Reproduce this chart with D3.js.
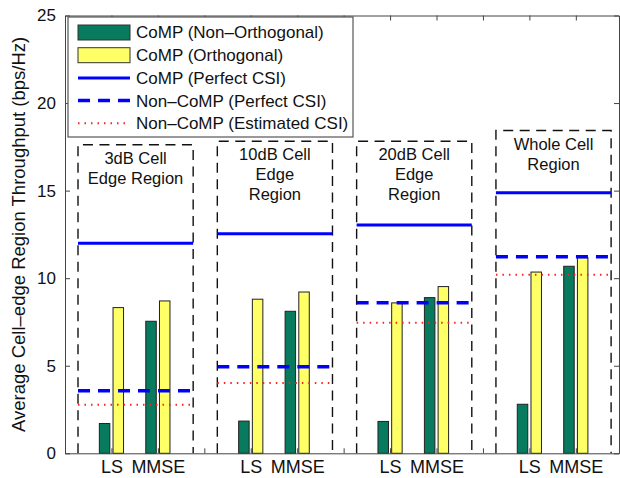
<!DOCTYPE html>
<html>
<head>
<meta charset="utf-8">
<script src="https://cdn.jsdelivr.net/npm/d3@7"></script>
<style>
    body { margin: 0; background: #fff; }
    svg text { font-family: "Liberation Sans", Arial, sans-serif; fill: #111; }
</style>
</head>
<body>
<div id="chart"></div>
<script>
// regions and estimators
var regionLabels = [
    ['3dB Cell', 'Edge Region'],
    ['10dB Cell', 'Edge', 'Region'],
    ['20dB Cell', 'Edge', 'Region'],
    ['Whole Cell', 'Region']
];
var estimators = ['LS', 'MMSE'];
var lsPos = [1, 4, 7, 10];
var xTicks = [1, 2, 3, 4, 5, 6, 7, 8, 9, 10, 11];
var xTickLabels = ['LS', 'MMSE', '', 'LS', 'MMSE', '', 'LS', 'MMSE', '', 'LS', 'MMSE'];
var yTicks = [0, 5, 10, 15, 20, 25];

// bar values (per region)
var nonOrthLS = [1.70, 1.84, 1.82, 2.80];
var nonOrthMMSE = [7.54, 8.11, 8.89, 10.68];
var orthLS = [8.32, 8.80, 8.59, 10.35];
var orthMMSE = [8.70, 9.21, 9.52, 11.17];

// reference lines (per region)
var compPerfect = [12.0, 12.54, 13.03, 14.88];
var noncompPerfect = [3.57, 4.94, 8.59, 11.23];
var noncompEstimated = [2.77, 4.01, 7.45, 10.20];

// height of dashed region boxes
var regionTop = [17.62, 17.82, 17.82, 18.43];

var legendLabels = [
    'CoMP (Non\u2013Orthogonal)',
    'CoMP (Orthogonal)',
    'CoMP (Perfect CSI)',
    'Non\u2013CoMP (Perfect CSI)',
    'Non\u2013CoMP (Estimated CSI)'
];

var width = 620;
var height = 478;
var margin = { left: 65, right: 1, top: 15.5, bottom: 24.7 };

var green = '#087a5e';
var yellow = '#ffff66';
var blue = '#0000ff';
var red = '#ff2020';

var svg = d3.select('#chart')
    .append('svg')
    .attr('width', width)
    .attr('height', height);

var x = d3.scaleLinear().domain([0, 11.93]).range([margin.left, width - margin.right]);
var y = d3.scaleLinear().domain([0, 25]).range([height - margin.bottom, margin.top]);

var barW = x(0.226) - x(0);
var off = 0.1475;

// build a flat bar table from the arrays
var bars = [];
lsPos.forEach(function(p, i) {
    bars.push({ pos: p - off, v: nonOrthLS[i], c: green });
    bars.push({ pos: p + off, v: orthLS[i], c: yellow });
    bars.push({ pos: p + 1 - off, v: nonOrthMMSE[i], c: green });
    bars.push({ pos: p + 1 + off, v: orthMMSE[i], c: yellow });
});

var lo = function(i) { return lsPos[i] - 0.72; };
var hi = function(i) { return lsPos[i] + 1.76; };

//Region boxes
var boxes = svg.append('g');
lsPos.forEach(function(p, i) {
    var pts = [[lo(i), 0], [lo(i), regionTop[i]], [hi(i), regionTop[i]], [hi(i), 0]];
    boxes.append('path')
        .attr('d', d3.line().x(function(d) { return x(d[0]); }).y(function(d) { return y(d[1]); })(pts))
        .attr('fill', 'none')
        .attr('stroke', '#111')
        .attr('stroke-width', 1.4)
        .attr('stroke-dasharray', '10,6.5');

    var t = boxes.append('text')
        .attr('text-anchor', 'middle')
        .attr('font-size', 16.5);
    regionLabels[i].forEach(function(s, k) {
        t.append('tspan')
            .attr('x', x((lo(i) + hi(i)) / 2))
            .attr('y', y(regionTop[i]) + 19 + k * 20)
            .text(s);
    });
});

//Bars
svg.append('g').selectAll('rect')
    .data(bars)
    .enter()
    .append('rect')
    .attr('x', function(d) { return x(d.pos) - barW / 2; })
    .attr('y', function(d) { return y(d.v); })
    .attr('width', barW)
    .attr('height', function(d) { return y(0) - y(d.v); })
    .attr('fill', function(d) { return d.c; })
    .attr('stroke', '#222')
    .attr('stroke-width', 1);

//Horizontal reference lines
var lineSets = [
    { vals: compPerfect, c: blue, w: 3, dash: null },
    { vals: noncompPerfect, c: blue, w: 3.5, dash: '12,8' },
    { vals: noncompEstimated, c: red, w: 2, dash: '1.5,5' }
];
lineSets.forEach(function(s) {
    svg.append('g').selectAll('line')
        .data(s.vals)
        .enter()
        .append('line')
        .attr('x1', function(d, i) { return x(lo(i)); })
        .attr('x2', function(d, i) { return x(hi(i)); })
        .attr('y1', function(d) { return y(d); })
        .attr('y2', function(d) { return y(d); })
        .attr('stroke', s.c)
        .attr('stroke-width', s.w)
        .attr('stroke-dasharray', s.dash);
});

//Axes
var axisColor = '#444';
var yLeft = svg.append('g')
    .attr('transform', 'translate(' + x(0) + ',0)')
    .call(d3.axisLeft(y).tickValues(yTicks).tickSizeInner(-5).tickSizeOuter(0).tickPadding(9));
var yRight = svg.append('g')
    .attr('transform', 'translate(' + x(11.93) + ',0)')
    .call(d3.axisRight(y).tickValues(yTicks).tickSizeInner(-5).tickSizeOuter(0).tickFormat(''));
var xBottom = svg.append('g')
    .attr('transform', 'translate(0,' + y(0) + ')')
    .call(d3.axisBottom(x).tickValues(xTicks).tickSizeInner(-5).tickSizeOuter(0).tickPadding(7)
        .tickFormat(function(d, i) { return xTickLabels[i]; }));
var xTop = svg.append('g')
    .attr('transform', 'translate(0,' + y(25) + ')')
    .call(d3.axisTop(x).tickValues(xTicks).tickSizeInner(-5).tickSizeOuter(0).tickFormat(''));

[yLeft, yRight, xBottom, xTop].forEach(function(a) {
    a.select('.domain').attr('stroke', axisColor);
    a.selectAll('.tick line').attr('stroke', axisColor);
    a.selectAll('text').attr('font-size', 17).attr('font-family', '"Liberation Sans", Arial, sans-serif').attr('fill', '#111');
});
xBottom.selectAll('text').attr('font-size', 18);

svg.append('text')
    .attr('transform', 'translate(19,' + ((y(0) + y(25)) / 2) + ') rotate(-90)')
    .attr('text-anchor', 'middle')
    .attr('dy', '0.35em')
    .attr('font-size', 18.5)
    .text('Average Cell\u2013edge Region Throughput (bps/Hz)');

//Legend
var leg = svg.append('g').attr('transform', 'translate(68,17)');
leg.append('rect')
    .attr('width', 285)
    .attr('height', 120)
    .attr('fill', '#fff')
    .attr('stroke', '#555')
    .attr('stroke-width', 1.2);

legendLabels.forEach(function(lab, i) {
    var cy = 15.5 + i * 22.7;
    if (i < 2) {
        leg.append('rect')
            .attr('x', 10).attr('y', cy - 7.5)
            .attr('width', 52).attr('height', 15)
            .attr('fill', i == 0 ? green : yellow)
            .attr('stroke', '#333');
    } else {
        var s = lineSets[i - 2];
        leg.append('line')
            .attr('x1', 10).attr('x2', 62)
            .attr('y1', cy).attr('y2', cy)
            .attr('stroke', s.c)
            .attr('stroke-width', s.w)
            .attr('stroke-dasharray', s.dash);
    }
    leg.append('text')
        .attr('x', 68)
        .attr('y', cy)
        .attr('dy', '0.35em')
        .attr('font-size', 17)
        .text(lab);
});
</script>
</body>
</html>
